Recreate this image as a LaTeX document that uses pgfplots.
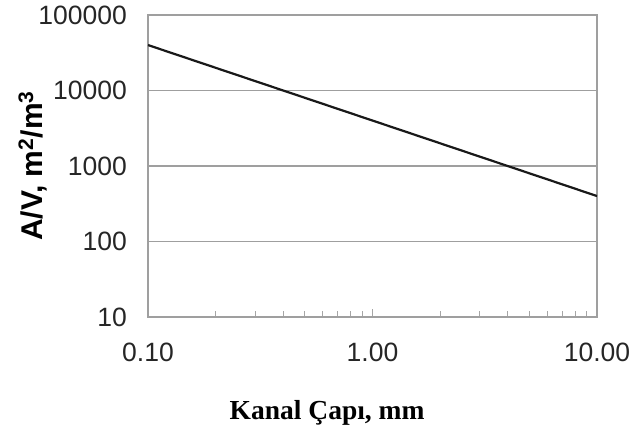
\documentclass[border=0pt]{standalone}
\usepackage{fontspec}
\setmainfont{Liberation Sans}
\newfontfamily\serifbf{Liberation Serif}
\usepackage{pgfplots}
\pgfplotsset{compat=1.18}
\begin{document}
\begin{tikzpicture}
\useasboundingbox (-148pt,-115pt) rectangle (486pt,317pt);
\begin{axis}[
  scale only axis, width=449pt, height=302pt,
  at={(0,0)}, anchor=south west,
  xmode=log, ymode=log,
  xmin=0.1, xmax=10, ymin=10, ymax=100000,
  axis line style={draw=gray!75, line width=1.2pt},
  ytick={10,100,1000,10000,100000},
  yticklabels={10,100,1000,10000,100000},
  xtick={0.1,1,10}, xticklabels={0.10,1.00,10.00},
  minor xtick={0.2,0.3,0.4,0.5,0.6,0.7,0.8,0.9,2,3,4,5,6,7,8,9},
  yminorticks=false,
  ymajorgrids, grid style={draw=gray!75, line width=1.2pt},
  tick align=inside, major tick length=8pt, minor tick length=6pt,
  xtick pos=bottom, ytick pos=left,
  every tick/.style={draw=gray!70, line width=1.1pt},
  ytick style={draw=none},
  /pgf/number format/assume math mode=true,
  tick label style={font=\fontsize{26.5}{30}\selectfont, text=black!85},
  yticklabel style={inner sep=0pt, anchor=east, xshift=-21pt},
  xticklabel style={inner sep=0pt, anchor=center, yshift=-35pt},
  ylabel={\textbf{A/V, m\textsuperscript{2}/m\textsuperscript{3}}},
  ylabel style={at={(axis description cs:-0.236,0.5)}, anchor=base, font=\fontsize{30}{34}\selectfont, inner sep=0pt},
  xlabel={\serifbf\bfseries Kanal Çapı, mm},
  xlabel style={at={(axis description cs:0.399,-0.341)}, anchor=base, font=\fontsize{27.5}{32}\selectfont, inner sep=0pt},
]
\addplot[black!90, line width=2.2pt, mark=none] coordinates {
  (0.1,40000) (0.2,20000) (0.3,13333) (0.4,10000) (0.5,8000) (0.6,6667)
  (0.7,5714) (0.8,5000) (0.9,4444) (1,4000) (2,2000) (3,1333) (4,1000)
  (5,800) (6,667) (7,571) (8,500) (9,444) (10,400)
};
\end{axis}
\end{tikzpicture}
\end{document}
